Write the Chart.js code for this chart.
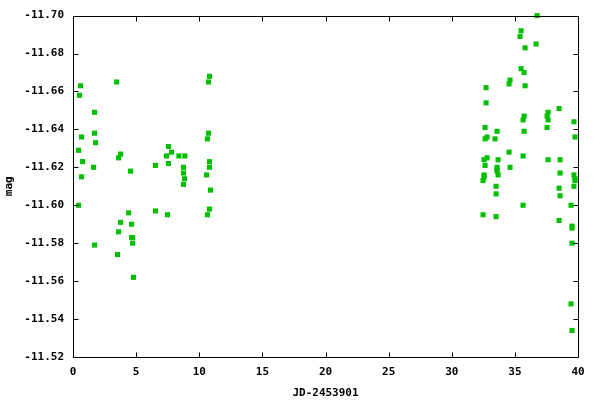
<!DOCTYPE html>
<html>
<head>
<meta charset="utf-8">
<script src="https://cdn.jsdelivr.net/npm/chart.js@4/dist/chart.umd.min.js"></script>
<style>
html,body{margin:0;padding:0;background:#fff;}
#wrap{width:600px;height:400px;}
</style>
</head>
<body>
<div id="wrap"><canvas id="c" width="600" height="400"></canvas></div>
<script>
const xTicks = [0, 5, 10, 15, 20, 25, 30, 35, 40];
const yTicks = [-11.70, -11.68, -11.66, -11.64, -11.62, -11.60, -11.58, -11.56, -11.54, -11.52];
const xLabel = 'JD-2453901';
const yLabel = 'mag';

const jd = [
  0.60, 0.52, 1.71, 0.68, 1.71, 1.79, 0.44, 0.76, 1.63, 0.68,
  3.45, 3.77, 3.61, 4.56, 6.53, 7.56, 7.80, 7.41, 7.56, 8.39,
  8.86, 8.75, 8.75, 8.83, 8.75, 0.44, 1.71, 3.53, 3.61, 3.77,
  4.40, 4.64, 4.64, 4.72, 4.72, 4.79, 6.53, 7.48, 10.81, 10.73,
  10.73, 10.65, 10.81, 10.81, 10.57, 10.89, 10.81, 10.65,
  36.76, 35.49, 35.41, 36.68, 35.81, 35.49, 35.73, 34.62, 34.54, 35.81,
  32.72, 32.72, 38.50, 37.63, 35.73, 37.55, 35.65, 37.63, 39.68, 32.64,
  37.55, 33.59, 35.73, 39.76, 32.80, 32.64, 33.43, 34.54, 35.65, 32.56,
  32.80, 33.67, 37.63, 38.58, 32.64, 33.59, 34.62, 33.59, 33.59, 38.58,
  32.56, 33.67, 39.68, 32.56, 39.76, 32.48, 39.76, 39.68, 38.50, 33.51,
  38.58, 33.51, 35.65, 39.45, 32.48, 33.51, 38.50, 39.53, 39.53, 39.53,
  39.45, 39.53
];
const mag = [
  -11.663, -11.658, -11.649, -11.636, -11.638, -11.633, -11.629, -11.623, -11.620, -11.615,
  -11.665, -11.627, -11.625, -11.618, -11.621, -11.631, -11.628, -11.626, -11.622, -11.626,
  -11.626, -11.620, -11.617, -11.614, -11.611, -11.600, -11.579, -11.574, -11.586, -11.591,
  -11.596, -11.590, -11.583, -11.583, -11.580, -11.562, -11.597, -11.595, -11.668, -11.665,
  -11.638, -11.635, -11.623, -11.620, -11.616, -11.608, -11.598, -11.595,
  -11.700, -11.692, -11.689, -11.685, -11.683, -11.672, -11.670, -11.666, -11.664, -11.663,
  -11.662, -11.654, -11.651, -11.649, -11.647, -11.647, -11.645, -11.645, -11.644, -11.641,
  -11.641, -11.639, -11.639, -11.636, -11.636, -11.635, -11.635, -11.628, -11.626, -11.624,
  -11.625, -11.624, -11.624, -11.624, -11.621, -11.620, -11.620, -11.619, -11.618, -11.617,
  -11.616, -11.616, -11.616, -11.615, -11.614, -11.613, -11.613, -11.610, -11.609, -11.610,
  -11.605, -11.606, -11.600, -11.600, -11.595, -11.594, -11.592, -11.589, -11.588, -11.580,
  -11.548, -11.534
];

const pts = jd.map((x, i) => ({x: x, y: mag[i]}));
const FONT = {family: '"DejaVu Sans Mono", monospace', size: 11, weight: 'bold'};

const frame = {
  id: 'frame',
  afterDraw(chart) {
    const {ctx, chartArea: a, scales} = chart;
    const L = 5;
    ctx.save();
    ctx.strokeStyle = '#000';
    ctx.lineWidth = 1;
    ctx.beginPath();
    const l = Math.round(a.left) + 0.5, r = Math.round(a.right) + 0.5;
    const t = Math.round(a.top) + 0.5, b = Math.round(a.bottom) + 0.5;
    ctx.rect(l, t, r - l, b - t);
    xTicks.forEach(v => {
      const px = Math.round(scales.x.getPixelForValue(v)) + 0.5;
      ctx.moveTo(px, b); ctx.lineTo(px, b - L);
      ctx.moveTo(px, t); ctx.lineTo(px, t + L);
    });
    yTicks.forEach(v => {
      const py = Math.round(scales.y.getPixelForValue(v)) + 0.5;
      ctx.moveTo(l, py); ctx.lineTo(l + L, py);
      ctx.moveTo(r, py); ctx.lineTo(r - L, py);
    });
    ctx.stroke();
    ctx.restore();
  }
};

new Chart(document.getElementById('c'), {
  type: 'scatter',
  data: {
    datasets: [{
      data: pts,
      pointStyle: 'rect',
      pointRadius: 3.6,
      pointHoverRadius: 3.6,
      backgroundColor: '#00c000',
      borderWidth: 0,
      clip: false
    }]
  },
  options: {
    responsive: false,
    animation: false,
    events: [],
    layout: {padding: {top: 15, right: 22, left: 0, bottom: 0}},
    plugins: {legend: {display: false}, tooltip: {enabled: false}},
    scales: {
      x: {
        type: 'linear',
        min: 0, max: 40,
        afterBuildTicks: s => { s.ticks = xTicks.map(v => ({value: v})); },
        afterFit: s => { s.height = 43; },
        grid: {display: false, drawTicks: false},
        border: {display: false},
        ticks: {color: '#000', font: FONT, padding: 9, maxRotation: 0, callback: v => String(v)},
        title: {display: true, text: xLabel, color: '#000', font: FONT, padding: {top: 6, bottom: 0}}
      },
      y: {
        type: 'linear',
        reverse: true,
        min: -11.70, max: -11.52,
        afterBuildTicks: s => { s.ticks = yTicks.map(v => ({value: v})); },
        afterFit: s => { s.width = 73; },
        grid: {display: false, drawTicks: false},
        border: {display: false},
        ticks: {color: '#000', font: FONT, padding: 9, callback: v => Number(v).toFixed(2)},
        title: {display: true, text: yLabel, color: '#000', font: FONT, padding: {top: 3, bottom: 0}}
      }
    }
  },
  plugins: [frame]
});
</script>
</body>
</html>
